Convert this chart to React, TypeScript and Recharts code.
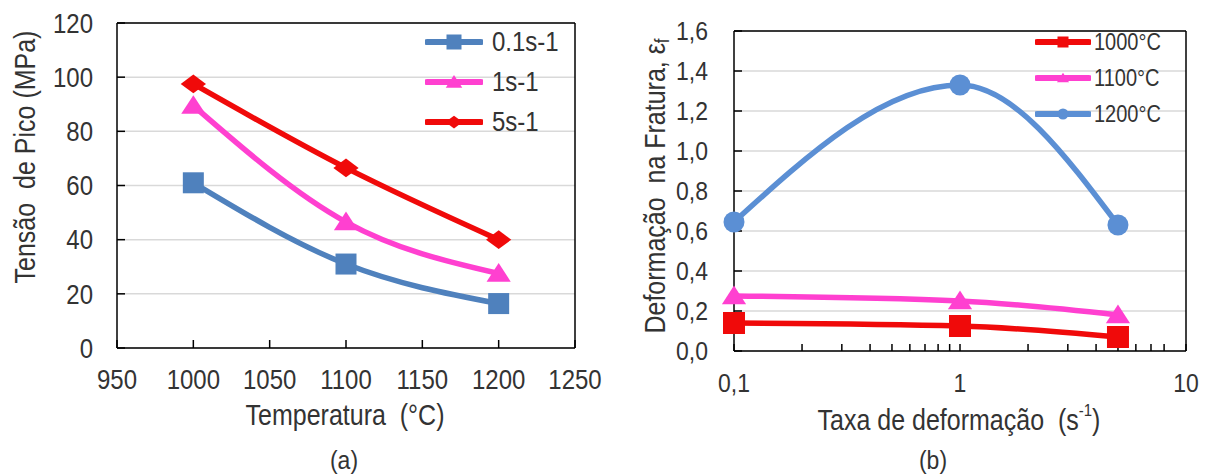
import React from 'react'
import { LineChart, Line, XAxis, YAxis, CartesianGrid, Legend, ReferenceLine } from 'recharts'

// (a) peak stress vs temperature
const temps = [1000, 1100, 1200]
const stress01 = [61, 31, 16.4]
const stress1 = [89.5, 46.5, 27.5]
const stress5 = [97.5, 66.5, 40]
const tempTicks = [950, 1000, 1050, 1100, 1150, 1200, 1250]
const stressTicks = [0, 20, 40, 60, 80, 100, 120]

// (b) fracture strain vs strain rate
const rates = [0.1, 1, 5]
const strain1000 = [0.14, 0.125, 0.07]
const strain1100 = [0.275, 0.25, 0.18]
const strain1200 = [0.645, 1.33, 0.63]
const rateTicks = [0.1, 0.2, 0.3, 0.4, 0.5, 0.6, 0.7, 0.8, 0.9, 1, 2, 3, 4, 5, 6, 7, 8, 9, 10]
const rateLabels: Record<number, string> = { 0.1: '0,1', 1: '1', 10: '10' }
const strainTicks = [0, 0.2, 0.4, 0.6, 0.8, 1.0, 1.2, 1.4, 1.6]

const stressData = temps.map((t, i) => ({ t, s01: stress01[i], s1: stress1[i], s5: stress5[i] }))
const strainData = rates.map((r, i) => ({ r, e1000: strain1000[i], e1100: strain1100[i], e1200: strain1200[i] }))

const FONT = '"Liberation Sans", Arial, sans-serif'
const TXT = '#333'
const BLUE = '#4f81bd'
const PINK = '#ff40d0'
const RED = '#f00a0a'
const BLUE2 = '#5b8fd4'
const SY = 1.15 // the source picture is a bit stretched vertically

type Shape = 'square' | 'triangle' | 'diamond' | 'circle'

function Marker({ shape, cx, cy, size, color }: { shape: Shape; cx: number; cy: number; size: number; color: string }) {
    const h = size / 2
    if (shape === 'square') return <rect x={cx - h} y={cy - h} width={size} height={size} fill={color} />
    if (shape === 'triangle')
        return <polygon points={`${cx},${cy - h * 0.95} ${cx + h * 1.1},${cy + h * 0.75} ${cx - h * 1.1},${cy + h * 0.75}`} fill={color} />
    if (shape === 'diamond')
        return <polygon points={`${cx},${cy - h * 0.85} ${cx + h * 1.15},${cy} ${cx},${cy + h * 0.85} ${cx - h * 1.15},${cy}`} fill={color} />
    return <circle cx={cx} cy={cy} r={h} fill={color} />
}

const dot = (shape: Shape, size: number, color: string) => (p: any) => {
    if (p.cx == null || p.cy == null) return <g key={`${shape}-${p.index}`} />
    return <Marker key={`${shape}-${p.index}`} shape={shape} cx={p.cx} cy={p.cy} size={size} color={color} />
}

const shapes: Record<string, Shape> = {
    '0.1s-1': 'square', '1s-1': 'triangle', '5s-1': 'diamond',
    '1000°C': 'square', '1100°C': 'triangle', '1200°C': 'circle',
}

const legendContent = (rowH: number, fontSize: number, gap: number, lineW: number, mk: number) => (props: any) => (
    <div style={{ fontFamily: FONT }}>
        {(props.payload || []).map((e: any) => (
            <div key={e.value} style={{ display: 'flex', alignItems: 'center', height: rowH }}>
                <svg width={lineW + 4} height={20}>
                    <line x1={2} y1={10} x2={lineW + 2} y2={10} stroke={e.color} strokeWidth={6} strokeLinecap="round" />
                    <Marker shape={shapes[e.value]} cx={lineW / 2 + 2} cy={10} size={mk} color={e.color} />
                </svg>
                <span style={{ fontSize, color: TXT, marginLeft: gap, display: 'inline-block', transform: `scaleY(${SY})` }}>{e.value}</span>
            </div>
        ))}
    </div>
)

const makeTick = (fontSize: number, dy: string) => (p: any) => {
    const label = p.tickFormatter ? p.tickFormatter(p.payload.value, p.index) : p.payload.value
    return (
        <text
            transform={`translate(${p.x},${p.y}) scale(1,${SY})`}
            textAnchor={p.textAnchor}
            dy={dy}
            fontSize={fontSize}
            fontFamily={FONT}
            fill={TXT}
        >
            {label}
        </text>
    )
}

const fmtComma = (v: number) => v.toFixed(1).replace('.', ',')

function Title({ x, y, size, rotate, children }: { x: number; y: number; size: number; rotate?: boolean; children: React.ReactNode }) {
    return (
        <text
            transform={`translate(${x},${y}) ${rotate ? 'rotate(-90)' : ''} scale(1,${SY})`}
            fontSize={size}
            textAnchor="middle"
            dominantBaseline="central"
            style={{ whiteSpace: 'pre' }}
        >
            {children}
        </text>
    )
}

export default function App() {
    return (
        <div style={{ position: 'absolute', left: 0, top: 0, width: 1205, height: 476, background: '#fff', fontFamily: FONT }}>
            <div style={{ position: 'absolute', left: 0, top: 0 }}>
                <LineChart width={620} height={476} data={stressData} margin={{ top: 23, right: 45, left: 57, bottom: 98 }}>
                    <CartesianGrid vertical={false} stroke="#d9d9d9" strokeWidth={1.5} />
                    <XAxis
                        dataKey="t"
                        type="number"
                        domain={[950, 1250]}
                        ticks={tempTicks}
                        height={30}
                        tickSize={-8}
                        tickMargin={29}
                        tick={makeTick(24, '0.71em')}
                        stroke="#000"
                        strokeWidth={1.5}
                    />
                    <YAxis
                        type="number"
                        domain={[0, 120]}
                        ticks={stressTicks}
                        width={60}
                        tickSize={-8}
                        tickMargin={32}
                        tick={makeTick(24, '0.355em')}
                        stroke="#000"
                        strokeWidth={1.5}
                    />
                    <ReferenceLine y={120} stroke="#000" strokeWidth={1.5} ifOverflow="visible" />
                    <ReferenceLine x={1250} stroke="#000" strokeWidth={1.5} ifOverflow="visible" />
                    <Legend
                        layout="vertical"
                        align="center"
                        verticalAlign="middle"
                        content={legendContent(40, 24, 9, 54, 15)}
                        wrapperStyle={{ left: 425, top: 22, width: 150 }}
                    />
                    <Line name="0.1s-1" dataKey="s01" type="monotone" stroke={BLUE} strokeWidth={5.5} dot={dot('square', 21, BLUE)} isAnimationActive={false} />
                    <Line name="1s-1" dataKey="s1" type="monotone" stroke={PINK} strokeWidth={5.5} dot={dot('triangle', 22, PINK)} isAnimationActive={false} />
                    <Line name="5s-1" dataKey="s5" type="monotone" stroke={RED} strokeWidth={5.5} dot={dot('diamond', 22, RED)} isAnimationActive={false} />
                </LineChart>
            </div>
            <div style={{ position: 'absolute', left: 620, top: 0 }}>
                <LineChart width={585} height={476} data={strainData} margin={{ top: 31, right: 19, left: 54, bottom: 95 }}>
                    <CartesianGrid vertical={false} stroke="#d9d9d9" strokeWidth={1.5} />
                    <XAxis
                        dataKey="r"
                        type="number"
                        scale="log"
                        domain={[0.1, 10]}
                        ticks={rateTicks}
                        tickFormatter={(v: number) => rateLabels[v] ?? ''}
                        height={30}
                        tickSize={-7}
                        tickMargin={29}
                        tick={makeTick(23, '0.71em')}
                        stroke="#000"
                        strokeWidth={1.5}
                    />
                    <YAxis
                        type="number"
                        domain={[0, 1.6]}
                        ticks={strainTicks}
                        width={60}
                        tickSize={-8}
                        tickMargin={34}
                        tickFormatter={fmtComma}
                        tick={makeTick(23, '0.355em')}
                        stroke="#000"
                        strokeWidth={1.5}
                    />
                    <ReferenceLine y={1.6} stroke="#000" strokeWidth={1.5} ifOverflow="visible" />
                    <ReferenceLine x={10} stroke="#000" strokeWidth={1.5} ifOverflow="visible" />
                    <Legend
                        layout="vertical"
                        align="center"
                        verticalAlign="middle"
                        content={legendContent(36, 20, 3, 52, 11)}
                        wrapperStyle={{ left: 415, top: 24, width: 150 }}
                    />
                    <Line name="1000°C" dataKey="e1000" type="monotone" stroke={RED} strokeWidth={5.5} dot={dot('square', 22, RED)} isAnimationActive={false} />
                    <Line name="1100°C" dataKey="e1100" type="monotone" stroke={PINK} strokeWidth={5.5} dot={dot('triangle', 22, PINK)} isAnimationActive={false} />
                    <Line name="1200°C" dataKey="e1200" type="monotone" stroke={BLUE2} strokeWidth={5.5} dot={dot('circle', 21, BLUE2)} isAnimationActive={false} />
                </LineChart>
            </div>
            <svg width={1205} height={476} style={{ position: 'absolute', left: 0, top: 0, pointerEvents: 'none' }} fontFamily={FONT} fill={TXT}>
                <Title x={25} y={157} size={25} rotate>Tensão  de Pico (MPa)</Title>
                <Title x={345} y={415} size={25}>Temperatura  (°C)</Title>
                <Title x={344} y={460} size={23}>(a)</Title>
                <Title x={655} y={186} size={25} rotate>
                    Deformação  na Fratura, ε<tspan fontSize={17} dy={6}>f</tspan>
                </Title>
                <Title x={959} y={420} size={25}>
                    Taxa de deformação  (s<tspan fontSize={15} dy={-9}>-1</tspan><tspan dy={9}>)</tspan>
                </Title>
                <Title x={933} y={460} size={23}>(b)</Title>
            </svg>
        </div>
    )
}
